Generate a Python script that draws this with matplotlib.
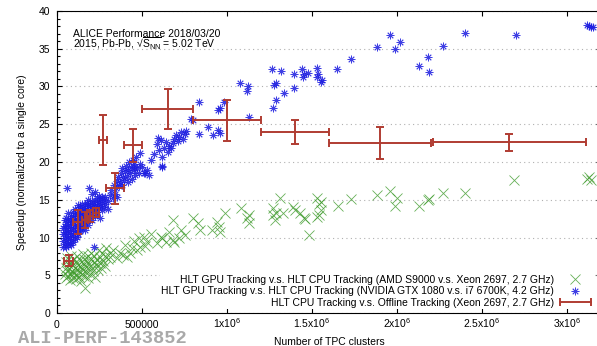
import numpy as np
import matplotlib
matplotlib.use('Agg')
from matplotlib import pyplot as plt
from matplotlib.lines import Line2D
from matplotlib.legend_handler import HandlerLine2D
from matplotlib.ticker import MultipleLocator

plt.rcParams['font.family'] = ['Liberation Sans', 'DejaVu Sans']
plt.rcParams['mathtext.fontset'] = 'custom'
plt.rcParams['mathtext.rm'] = 'Liberation Sans'
plt.rcParams['mathtext.it'] = 'Liberation Sans:italic'
plt.rcParams['font.size'] = 7.5

# x in millions of TPC clusters, y = speedup
green_pts = np.array([
    [0.045, 5.2], [0.05, 6.0], [0.05, 4.6], [0.055, 6.8], [0.06, 5.5], [0.06, 7.3],
    [0.065, 4.9], [0.07, 6.3], [0.07, 5.8], [0.075, 4.4], [0.08, 5.1], [0.08, 6.9],
    [0.085, 7.6], [0.09, 5.6], [0.09, 6.4], [0.095, 4.7], [0.1, 5.3], [0.1, 7.1],
    [0.105, 6.0], [0.11, 4.5], [0.11, 6.7], [0.115, 5.0], [0.12, 5.8], [0.12, 7.5],
    [0.125, 6.3], [0.13, 4.8], [0.13, 5.5], [0.135, 7.0], [0.14, 6.1], [0.14, 4.3],
    [0.145, 5.2], [0.15, 6.6], [0.15, 7.8], [0.155, 5.7], [0.16, 4.9], [0.16, 7.2],
    [0.165, 3.3], [0.165, 6.2], [0.17, 5.4], [0.175, 6.9], [0.18, 4.6], [0.18, 7.6],
    [0.185, 5.9], [0.19, 6.5], [0.195, 5.1], [0.2, 7.2], [0.2, 8.0], [0.205, 6.0],
    [0.21, 5.5], [0.215, 6.8], [0.22, 7.6], [0.225, 4.8], [0.23, 6.3], [0.235, 7.0],
    [0.24, 5.7], [0.245, 8.3], [0.25, 6.6], [0.255, 7.4], [0.26, 5.9], [0.265, 8.0],
    [0.27, 6.9], [0.28, 7.5], [0.285, 6.2], [0.29, 8.6], [0.3, 7.1], [0.31, 7.9],
    [0.31, 7.4], [0.33, 8.3], [0.35, 7.3], [0.37, 7.9], [0.39, 7.7], [0.41, 7.4],
    [0.43, 7.9], [0.44, 8.6], [0.47, 8.3], [0.49, 8.7], [0.51, 10.1], [0.53, 9.4],
    [0.4, 9.0], [0.45, 9.6], [0.48, 10.0], [0.52, 8.9], [0.55, 10.4],
    [0.59, 9.3], [0.61, 10.1], [0.62, 9.9], [0.64, 9.4], [0.66, 10.7], [0.68, 12.3],
    [0.68, 9.7], [0.69, 9.4], [0.72, 9.9], [0.73, 11.0], [0.75, 10.3], [0.8, 12.6],
    [0.83, 11.9], [0.84, 11.0], [0.91, 11.0], [0.94, 12.1], [0.95, 11.4], [0.96, 10.7],
    [0.99, 13.2], [1.08, 13.9], [1.12, 12.6], [1.13, 13.0], [1.13, 11.9], [1.27, 13.9],
    [1.27, 13.0], [1.28, 12.3], [1.29, 13.2], [1.31, 15.2], [1.33, 13.2], [1.39, 14.0],
    [1.40, 13.6], [1.43, 13.2], [1.45, 12.6], [1.46, 12.4], [1.48, 10.3], [1.53, 15.2],
    [1.54, 14.5], [1.55, 14.7], [1.55, 13.6], [1.54, 13.0], [1.53, 12.7], [1.65, 14.2],
    [1.73, 15.1], [1.88, 15.6], [1.96, 16.2], [1.99, 14.2], [2.0, 15.2], [2.13, 14.2],
    [2.18, 15.0], [2.19, 15.1], [2.27, 15.9], [2.40, 15.9], [2.69, 17.6], [3.12, 17.7],
    [3.13, 18.0], [3.14, 17.6],
])

blue_pts = np.array([
    [0.035, 8.8], [0.035, 9.6], [0.035, 10.4], [0.035, 11.2],
    [0.045, 9.1], [0.045, 9.9], [0.045, 10.7], [0.045, 11.5], [0.045, 12.3],
    [0.055, 8.7], [0.055, 9.4], [0.055, 10.2], [0.055, 11.0], [0.055, 11.8], [0.055, 12.6],
    [0.065, 9.0], [0.065, 9.8], [0.065, 10.6], [0.065, 11.4], [0.065, 12.2], [0.065, 13.3],
    [0.075, 9.3], [0.075, 10.1], [0.075, 10.9], [0.075, 11.7], [0.075, 12.5],
    [0.085, 9.0], [0.085, 9.7], [0.085, 10.5], [0.085, 11.3], [0.085, 12.1], [0.085, 12.9],
    [0.095, 9.4], [0.095, 10.2], [0.095, 11.0], [0.095, 11.8], [0.095, 12.6], [0.095, 13.4],
    [0.105, 9.8], [0.105, 10.6], [0.105, 11.4], [0.105, 12.2], [0.105, 13.0], [0.105, 13.8],
    [0.115, 10.1], [0.115, 10.9], [0.115, 11.7], [0.115, 12.5], [0.115, 13.3],
    [0.125, 10.5], [0.125, 11.3], [0.125, 12.1], [0.125, 12.9], [0.125, 13.7], [0.125, 14.3],
    [0.135, 10.8], [0.135, 11.6], [0.135, 12.4], [0.135, 13.2], [0.135, 14.0],
    [0.145, 11.2], [0.145, 12.0], [0.145, 12.8], [0.145, 13.6], [0.145, 14.4],
    [0.155, 11.5], [0.155, 12.3], [0.155, 13.1], [0.155, 13.9],
    [0.165, 11.0], [0.165, 11.9], [0.165, 12.7], [0.165, 13.5], [0.165, 14.3],
    [0.175, 12.2], [0.175, 13.0], [0.175, 13.8], [0.175, 14.6],
    [0.185, 11.6], [0.185, 12.6], [0.185, 13.4], [0.185, 14.2], [0.185, 15.0],
    [0.195, 12.9], [0.195, 13.7], [0.195, 14.5], [0.19, 16.6],
    [0.205, 12.3], [0.205, 13.3], [0.205, 14.1], [0.205, 14.9], [0.205, 15.8],
    [0.215, 13.6], [0.215, 14.4], [0.22, 8.7],
    [0.225, 12.8], [0.225, 14.0], [0.225, 14.8], [0.225, 16.0],
    [0.235, 13.4], [0.235, 14.3], [0.235, 15.2],
    [0.245, 13.9], [0.245, 14.7], [0.245, 15.5],
    [0.255, 12.6], [0.255, 14.2], [0.255, 15.0],
    [0.265, 13.7], [0.265, 14.6], [0.265, 15.4],
    [0.275, 14.1], [0.275, 15.0], [0.285, 14.5], [0.285, 15.3],
    [0.3, 13.8], [0.3, 14.9], [0.057, 16.6],
    [0.31, 15.6], [0.32, 16.3], [0.33, 15.2], [0.335, 17.0], [0.34, 15.8], [0.345, 16.5],
    [0.35, 17.5], [0.355, 15.4], [0.36, 18.0], [0.365, 16.8], [0.37, 17.4], [0.375, 18.5],
    [0.38, 17.0], [0.385, 19.2], [0.39, 18.0], [0.395, 17.6], [0.4, 18.8], [0.405, 19.5],
    [0.41, 18.2], [0.415, 17.3], [0.42, 19.0], [0.425, 20.0], [0.43, 18.6], [0.435, 19.4],
    [0.44, 17.8], [0.445, 20.3], [0.45, 18.9], [0.455, 19.7], [0.46, 18.3], [0.465, 20.6],
    [0.47, 19.2], [0.48, 18.5], [0.49, 19.8], [0.49, 21.2], [0.5, 19.3], [0.51, 18.6],
    [0.52, 18.5], [0.53, 19.0], [0.54, 18.3], [0.45, 19.3], [0.55, 20.3], [0.57, 21.0],
    [0.59, 22.4], [0.6, 21.6], [0.61, 22.9], [0.62, 20.7], [0.62, 19.3], [0.63, 21.9],
    [0.64, 22.6], [0.65, 21.3], [0.66, 22.1], [0.67, 21.8], [0.68, 22.5], [0.69, 23.1],
    [0.7, 23.6], [0.71, 22.8], [0.72, 23.3], [0.73, 24.0], [0.74, 23.0], [0.75, 23.7],
    [0.76, 24.1], [0.594, 23.2], [0.62, 19.5],
    [0.79, 25.7], [0.802, 25.6], [0.837, 27.9], [0.837, 23.7], [0.89, 24.6], [0.916, 23.6],
    [0.949, 24.2], [0.959, 23.8], [0.959, 27.2], [0.947, 26.9], [0.98, 28.0], [1.076, 30.5],
    [1.122, 30.0], [1.12, 29.4], [1.131, 26.0], [1.267, 32.3], [1.316, 32.1], [1.269, 27.2],
    [1.288, 28.2], [1.278, 30.2], [1.29, 30.4], [1.333, 29.2], [1.396, 31.7], [1.396, 29.8],
    [1.439, 32.3], [1.453, 31.7], [1.449, 31.3], [1.479, 31.8], [1.528, 32.4], [1.537, 31.7],
    [1.528, 31.2], [1.551, 30.6], [1.56, 30.9], [1.649, 32.3], [1.73, 33.6], [1.88, 35.2],
    [1.96, 36.8], [2.02, 35.9], [1.99, 35.0], [2.13, 32.7], [2.18, 33.9], [2.19, 31.9],
    [2.27, 35.4], [2.40, 37.1], [2.70, 36.8], [3.12, 38.1], [3.14, 37.9], [3.15, 37.9],
    [3.13, 38.0],
])

# HLT CPU vs offline, binned
red_x = np.array([0.07, 0.122, 0.165, 0.194, 0.229, 0.341, 0.271, 0.447, 0.65, 1.0, 1.4, 1.9, 2.66])
red_y = np.array([6.95, 12.0, 12.3, 12.8, 13.3, 16.5, 22.9, 22.2, 27.0, 25.5, 24.0, 22.5, 22.6])
red_xerr = np.array([0.026, 0.026, 0.018, 0.018, 0.018, 0.054, 0.024, 0.053, 0.15, 0.2, 0.2, 0.3, 0.45])
red_yerr = np.array([0.73, 1.6, 1.05, 0.8, 0.6, 2.1, 3.3, 2.2, 2.65, 2.7, 1.6, 2.1, 1.15])

labels = ['HLT GPU Tracking v.s. HLT CPU Tracking (AMD S9000 v.s. Xeon 2697, 2.7 GHz)',
          'HLT GPU Tracking v.s. HLT CPU Tracking (NVIDIA GTX 1080 v.s. i7 6700K, 4.2 GHz)',
          'HLT CPU Tracking v.s. Offline Tracking (Xeon 2697, 2.7 GHz)']
xticks = [0, 0.5e6, 1e6, 1.5e6, 2e6, 2.5e6, 3e6]
xticklabels = ['0', '500000', r'1x10$^6$', r'1.5x10$^6$', r'2x10$^6$', r'2.5x10$^6$', r'3x10$^6$']

green = '#3f9b2c'
blue = '#1c1ce0'
red = '#b03c32'

fig = plt.figure(figsize=(5.97, 3.46), dpi=100)
ax = fig.add_axes([57/597, 1-313/346, 544/597, 302/346])

g, = ax.plot(green_pts[:, 0]*1e6, green_pts[:, 1], ls='none', marker='x', ms=6.5,
             mew=0.6, color=green, alpha=0.8)
b, = ax.plot(blue_pts[:, 0]*1e6, blue_pts[:, 1], ls='none', marker=(8, 2, 0), ms=5.5,
             mew=0.6, color=blue, alpha=0.85)
ax.errorbar(red_x*1e6, red_y, xerr=red_xerr*1e6, yerr=red_yerr, fmt='none',
            ecolor=red, elinewidth=1.4, capsize=2.9, capthick=1.4, zorder=5)

ax.set_xlim(0, 3.2e6)
ax.set_ylim(0, 40)
ax.set_xticks(xticks, xticklabels)
ax.yaxis.set_major_locator(MultipleLocator(5))
ax.yaxis.set_minor_locator(MultipleLocator(1))
ax.tick_params(which='both', direction='in', top=True, right=True, width=0.8)
ax.tick_params(which='major', length=3.5)
ax.tick_params(which='minor', length=2)
ax.tick_params(axis='y', pad=5)
ax.tick_params(axis='x', pad=10.5)
for lbl in ax.get_xticklabels():
    lbl.set_va('baseline')
for sp in ax.spines.values():
    sp.set_linewidth(0.8)

ax.yaxis.grid(True, which='major', ls=(0, (1, 3)), color='#b0b0b0', lw=0.8)
ax.set_axisbelow(True)

ax.set_ylabel('Speedup (normalized to a single core)')
ax.yaxis.set_label_coords((27-57)/544, 0.5)
ax.set_xlabel('Number of TPC clusters')
ax.xaxis.set_label_coords(0.5, (313-337)/302)

red_h = Line2D([], [], color=red, lw=1.4, marker='|', ms=5.8, mew=1.4)
leg = ax.legend([g, b, red_h], labels, loc='lower right', markerfirst=False,
                bbox_to_anchor=(592/597, 1-309/346), bbox_transform=fig.transFigure,
                numpoints=1, handlelength=3.0, handletextpad=0.55, labelspacing=0.15,
                borderpad=0.1, borderaxespad=0, frameon=True, fancybox=False,
                facecolor='white', edgecolor='none', framealpha=1,
                handler_map={red_h: HandlerLine2D(numpoints=2, marker_pad=0)})
for t in leg.get_texts():
    t.set_ha('right')
leg._legend_box.align = 'right'

fig.text(73/597, 1-36.7/346, 'ALICE Performance 2018/03/20', va='baseline')
fig.text(73/597, 1-48.3/346, '2015, Pb-Pb, \u221a$\\overline{\\mathrm{S}_{\\mathrm{NN}}}$ = 5.02 TeV',
         va='baseline')
fig.text(18/597, 1-343/346, 'ALI-PERF-143852', family=['Liberation Mono', 'DejaVu Sans Mono'],
         weight='bold', size=13.5, color='#a9a9a9', va='baseline')

fig.savefig('out.png', dpi=100)
